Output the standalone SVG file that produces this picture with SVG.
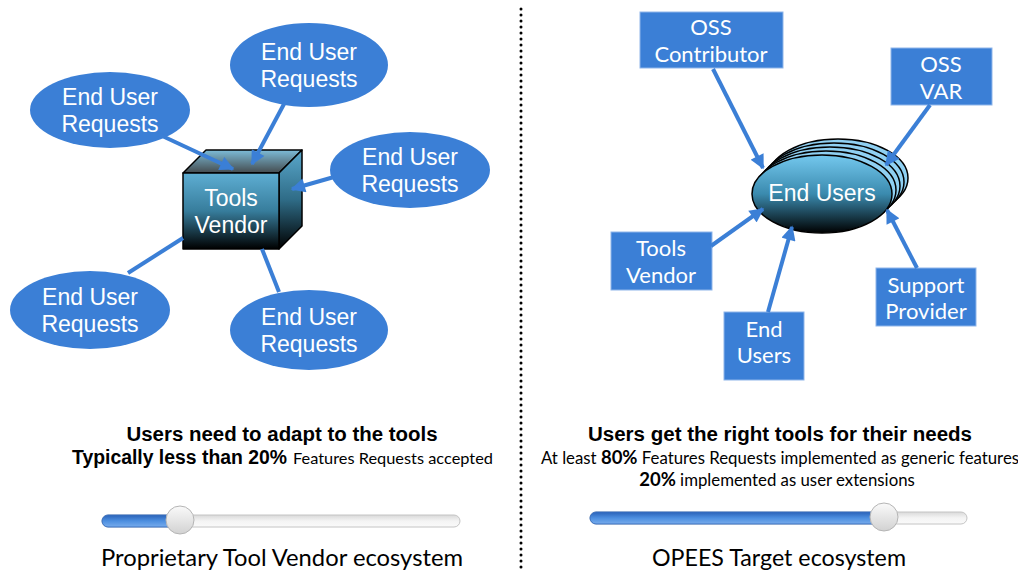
<svg xmlns="http://www.w3.org/2000/svg" width="1018" height="576" viewBox="0 0 1018 576">
<defs>
<style>
.bl{fill:#3b7fd6}
.et{font-family:"Liberation Sans",Arial,sans-serif;font-size:23px;fill:#fff;text-anchor:middle}
.bt{font-family:Lato,"Open Sans",sans-serif;font-size:22px;fill:#fff;text-anchor:middle}
.box{fill:#3b7fd6;stroke:#8fb6ea;stroke-width:1}
.con{stroke:#3b7fd6;stroke-width:4;fill:none}
.arr{marker-end:url(#ah)}
.hd{font-family:"Liberation Sans",Arial,sans-serif;font-weight:bold;font-size:20px;fill:#000;text-anchor:middle}
.gs{font-family:Lato,"Open Sans",sans-serif;fill:#000}
.ttl{font-family:Lato,"Open Sans",sans-serif;font-size:24px;fill:#000}
</style>
<marker id="ah" viewBox="0 0 10 10" refX="9" refY="5" markerWidth="4" markerHeight="3.6" orient="auto">
<path d="M0,0 L10,5 L0,10 z" fill="#3b7fd6"/>
</marker>
<linearGradient id="gFront" x1="0" y1="0" x2="0" y2="1">
<stop offset="0" stop-color="#5eaed3"/><stop offset="0.5" stop-color="#377d9c"/><stop offset="1" stop-color="#000"/>
</linearGradient>
<linearGradient id="gTop" x1="0" y1="0" x2="0" y2="1">
<stop offset="0" stop-color="#7dbcd8"/><stop offset="1" stop-color="#444b4e"/>
</linearGradient>
<linearGradient id="gSide" x1="0" y1="0" x2="0" y2="1">
<stop offset="0" stop-color="#5aa8cc"/><stop offset="0.5" stop-color="#2f6c87"/><stop offset="1" stop-color="#000"/>
</linearGradient>
<linearGradient id="gEll" x1="0" y1="0" x2="0" y2="1">
<stop offset="0" stop-color="#74c8ee"/><stop offset="0.5" stop-color="#3a8aae"/><stop offset="1" stop-color="#000"/>
</linearGradient>
<linearGradient id="gTrack" x1="0" y1="0" x2="0" y2="1">
<stop offset="0" stop-color="#d9d9d9"/><stop offset="0.5" stop-color="#f4f4f4"/><stop offset="1" stop-color="#fafafa"/>
</linearGradient>
<linearGradient id="gFill" x1="0" y1="0" x2="0" y2="1">
<stop offset="0" stop-color="#2a62b8"/><stop offset="0.5" stop-color="#4d8fe0"/><stop offset="1" stop-color="#78acec"/>
</linearGradient>
<linearGradient id="gKnob" x1="0" y1="0" x2="0" y2="1">
<stop offset="0" stop-color="#fafafa"/><stop offset="1" stop-color="#d2d2d2"/>
</linearGradient>
</defs>
<rect width="1018" height="576" fill="#fff"/>

<!-- Left: End User Requests ellipses -->
<g id="req-top"><ellipse class="bl" cx="309" cy="65" rx="79" ry="42"/><text class="et" x="309" y="60">End User</text><text class="et" x="309" y="87">Requests</text></g>
<g id="req-left"><ellipse class="bl" cx="110" cy="110" rx="80" ry="38"/><text class="et" x="110" y="105">End User</text><text class="et" x="110" y="132">Requests</text></g>
<g id="req-right"><ellipse class="bl" cx="410" cy="170" rx="80" ry="38"/><text class="et" x="410" y="165">End User</text><text class="et" x="410" y="192">Requests</text></g>
<g id="req-bl"><ellipse class="bl" cx="90" cy="310" rx="80" ry="39"/><text class="et" x="90" y="305">End User</text><text class="et" x="90" y="332">Requests</text></g>
<g id="req-br"><ellipse class="bl" cx="309" cy="330" rx="79" ry="40"/><text class="et" x="309" y="325">End User</text><text class="et" x="309" y="352">Requests</text></g>

<!-- Cube -->
<g id="tools-vendor-cube" stroke="#000" stroke-width="1.5" stroke-linejoin="round">
<polygon points="183,173 206,150 302,150 279,173" fill="url(#gTop)"/>
<polygon points="279,173 302,150 302,226 279,249" fill="url(#gSide)"/>
<rect x="183" y="173" width="96" height="76" fill="url(#gFront)"/>
<text class="et" x="231" y="206" stroke="none" font-size="24">Tools</text>
<text class="et" x="231" y="233" stroke="none" font-size="24">Vendor</text>
</g>

<!-- Divider -->
<line x1="521" y1="9" x2="521" y2="572" stroke="#000" stroke-width="3" stroke-dasharray="0 6" stroke-linecap="round"/>

<!-- Right: stacked End Users ellipse -->
<g id="end-users-stack" stroke="#000" stroke-width="1.5">
<ellipse cx="838" cy="178" rx="70" ry="39" fill="#8fd0f2"/>
<ellipse cx="834" cy="182" rx="70" ry="39" fill="#8fd0f2"/>
<ellipse cx="830" cy="186" rx="70" ry="39" fill="#8fd0f2"/>
<ellipse cx="826" cy="190" rx="70" ry="39" fill="#8fd0f2"/>
<ellipse cx="822" cy="194" rx="70" ry="39" fill="url(#gEll)"/>
<text class="et" x="822" y="201" stroke="none">End Users</text>
</g>

<g id="oss-contributor"><rect class="box" x="640" y="12" width="143" height="56"/><text class="bt" x="711" y="35">OSS</text><text class="bt" x="711" y="62">Contributor</text></g>
<g id="oss-var"><rect class="box" x="891" y="48" width="101" height="57"/><text class="bt" x="941" y="72">OSS</text><text class="bt" x="941" y="99">VAR</text></g>
<g id="tools-vendor-box"><rect class="box" x="611" y="232" width="101" height="58"/><text class="bt" x="661" y="256">Tools</text><text class="bt" x="661" y="283">Vendor</text></g>
<g id="end-users-box"><rect class="box" x="724" y="312" width="80" height="68"/><text class="bt" x="764" y="337">End</text><text class="bt" x="764" y="363">Users</text></g>
<g id="support-provider"><rect class="box" x="876" y="268" width="100" height="58"/><text class="bt" x="926" y="293">Support</text><text class="bt" x="926" y="319">Provider</text></g>

<!-- Connectors -->
<g id="connectors">
<line class="con arr" x1="158" y1="134" x2="233" y2="169"/>
<line class="con arr" x1="284" y1="104" x2="252" y2="164"/>
<line class="con arr" x1="334" y1="177" x2="292" y2="189"/>
<line class="con" x1="128" y1="273" x2="183" y2="238"/>
<line class="con" x1="262" y1="249" x2="279" y2="292"/>
<line class="con arr" x1="713" y1="69" x2="763" y2="168"/>
<line class="con arr" x1="930" y1="105" x2="886" y2="165"/>
<line class="con arr" x1="711" y1="246" x2="763" y2="209"/>
<line class="con arr" x1="768" y1="312" x2="792" y2="227"/>
<line class="con arr" x1="917" y1="268" x2="887" y2="210"/>
</g>

<!-- Captions -->
<text class="hd" x="282" y="441" textLength="311" lengthAdjust="spacingAndGlyphs">Users need to adapt to the tools</text>
<text class="hd" x="72" y="464" style="text-anchor:start" textLength="215" lengthAdjust="spacingAndGlyphs">Typically less than 20%</text>
<text class="gs" x="293" y="464" font-size="16" textLength="200" lengthAdjust="spacingAndGlyphs">Features Requests accepted</text>

<text class="hd" x="780" y="441" textLength="384" lengthAdjust="spacingAndGlyphs">Users get the right tools for their needs</text>
<text class="gs" x="780" y="464" font-size="16.8" text-anchor="middle">At least <tspan font-weight="bold" font-size="18.5">80%</tspan> Features Requests implemented as generic features</text>
<text class="gs" x="777" y="486" font-size="16.8" text-anchor="middle"><tspan font-weight="bold" font-size="18.5">20%</tspan> implemented as user extensions</text>

<!-- Sliders -->
<g id="slider-left">
<rect x="102" y="515" width="358" height="12" rx="6" fill="url(#gTrack)" stroke="#c4c4c4"/>
<rect x="102" y="515" width="80" height="12" rx="6" fill="url(#gFill)" stroke="#3a70c0"/>
<circle cx="180" cy="520" r="14" fill="url(#gKnob)" stroke="#b5b5b5"/>
</g>
<g id="slider-right">
<rect x="590" y="512" width="377" height="12" rx="6" fill="url(#gTrack)" stroke="#c4c4c4"/>
<rect x="590" y="512" width="296" height="12" rx="6" fill="url(#gFill)" stroke="#3a70c0"/>
<circle cx="884" cy="517" r="14" fill="url(#gKnob)" stroke="#b5b5b5"/>
</g>

<text class="ttl" x="101" y="566" textLength="362" lengthAdjust="spacingAndGlyphs">Proprietary Tool Vendor ecosystem</text>
<text class="ttl" x="652" y="566" textLength="254" lengthAdjust="spacingAndGlyphs">OPEES Target ecosystem</text>
</svg>
